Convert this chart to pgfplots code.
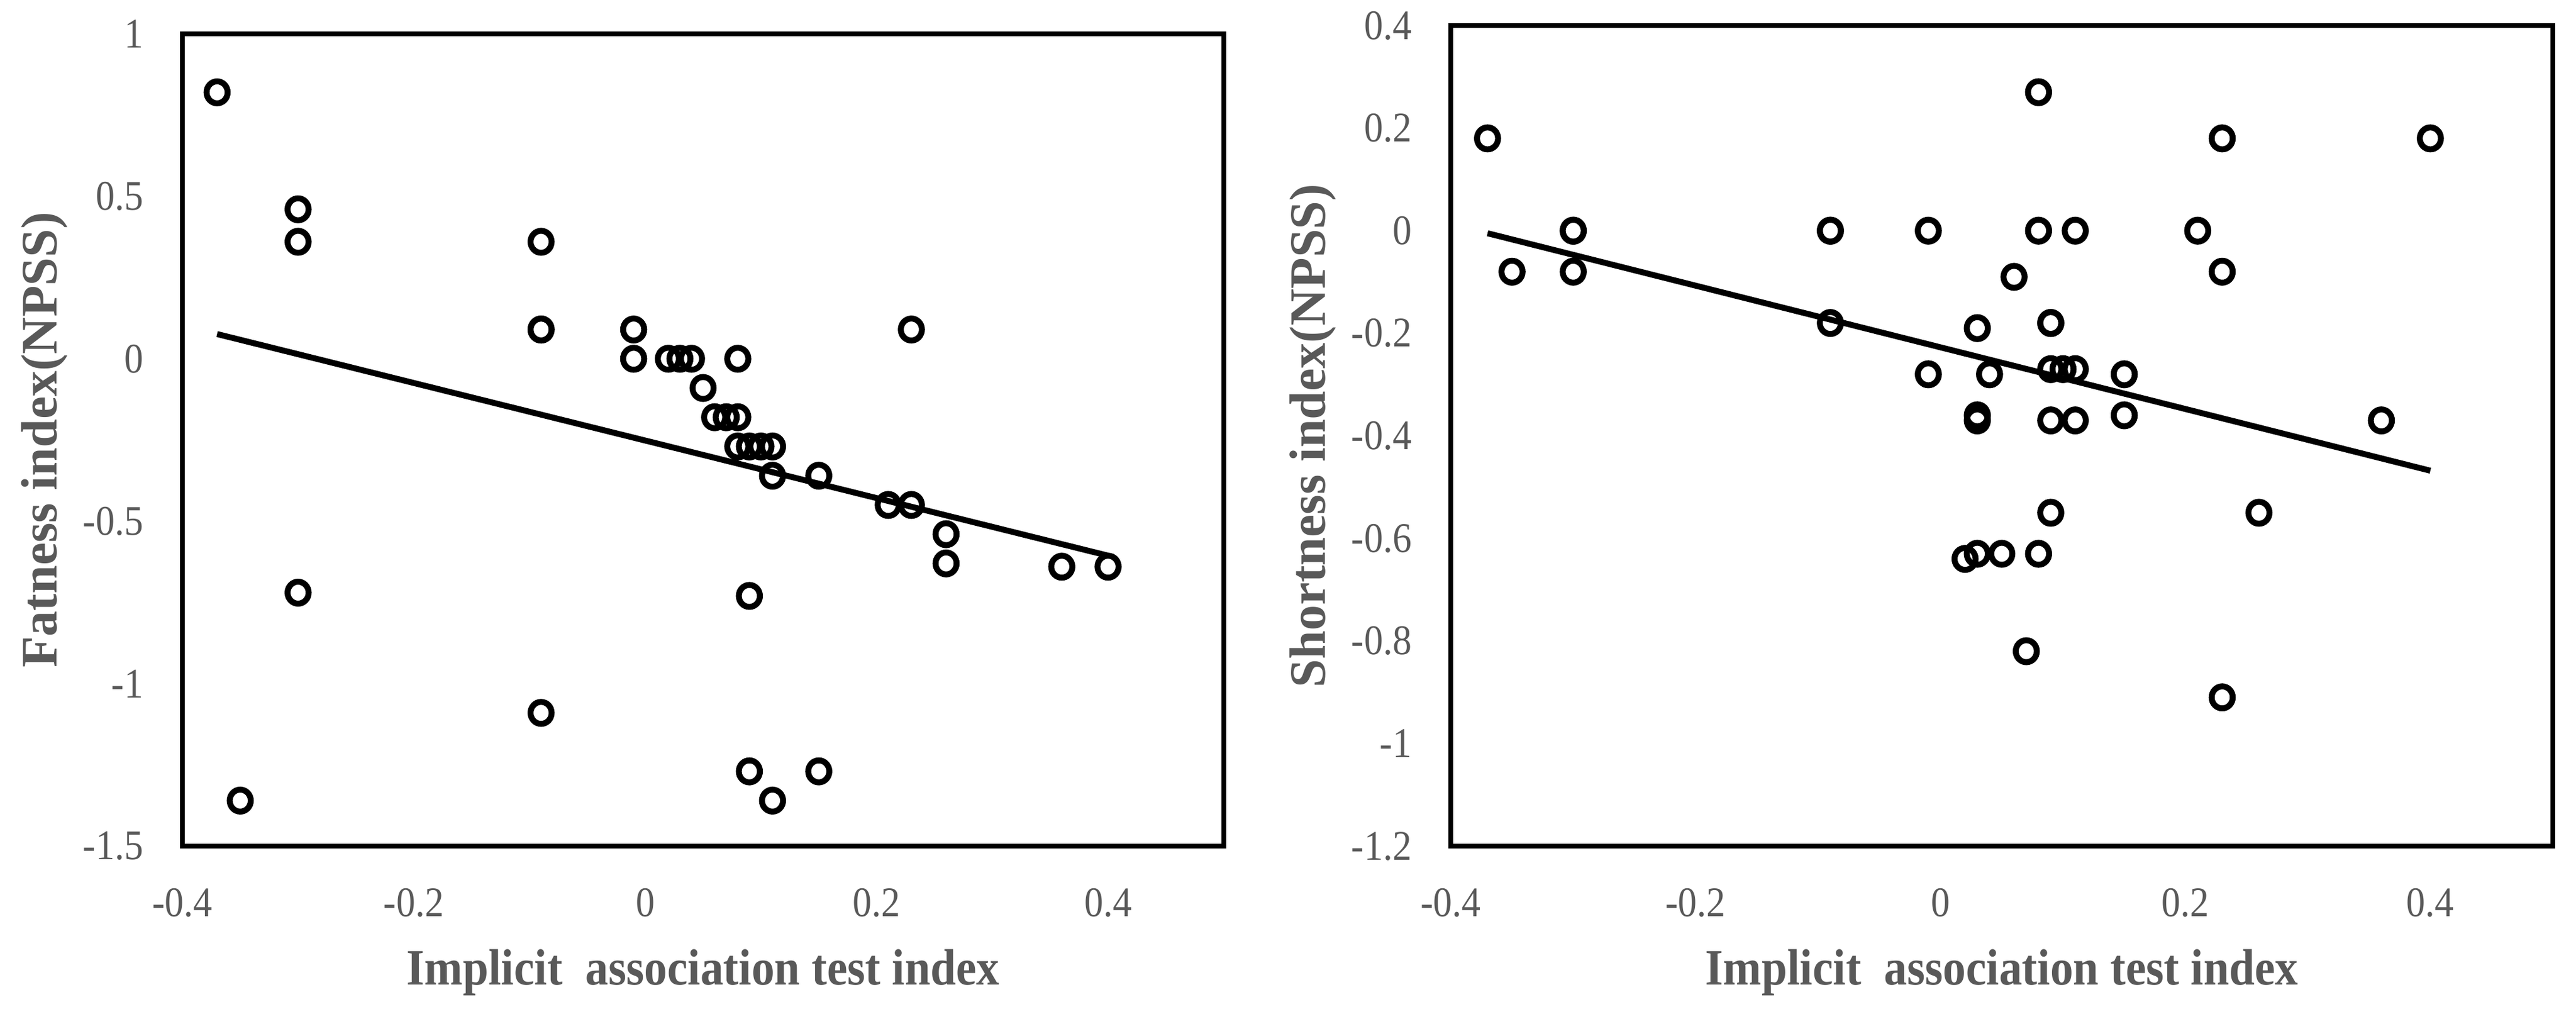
\documentclass[border=0pt]{standalone}
\usepackage{fontspec}
\setmainfont[FakeStretch=0.9]{Liberation Serif}
\newfontfamily\ylfont{Liberation Serif}
\usepackage{pgfplots}
\pgfplotsset{compat=1.18}
\definecolor{tickgray}{HTML}{595959}

\pgfplotsset{
  myaxis/.style={
    scale only axis,
    clip=false,
    axis line style={line width=0.73pt, black},
    major tick style={draw=none},
    minor tick style={draw=none},
    xmin=-0.4, xmax=0.5,
    xtick={-0.4,-0.2,0,0.2,0.4},
    xticklabels={-0.4,-0.2,0,0.2,0.4},
    ticklabel style={font=\fontsize{7.1}{8}\selectfont, text=tickgray},
    xticklabel style={anchor=north, inner sep=0pt, yshift=-6.9pt},
    yticklabel style={anchor=east, inner sep=0pt, xshift=-6.4pt},
    xlabel style={at={([yshift=-23.3pt]axis description cs:0.5,0)}, anchor=base,
      font=\fontsize{8.6}{10}\selectfont\bfseries, text=tickgray, inner sep=0pt},
    ylabel style={at={([xshift=-21.2pt]axis description cs:0,0.5)}, anchor=base, rotate=0,
      font=\ylfont\fontsize{8.6}{10}\selectfont\bfseries, text=tickgray, inner sep=0pt},
    xlabel={Implicit\ \ association test index},
  },
  pts/.style={only marks, mark=o, mark size=1.85pt, black,
    mark options={line width=1.0pt, xscale=0.96}},
  fit/.style={no marks, black, line width=1.0pt},
}

\begin{document}
\begin{tikzpicture}
\useasboundingbox (0,0) rectangle (433.6pt,171.4pt);

\begin{axis}[myaxis,
  at={(30.7pt,29.0pt)}, anchor=south west,
  width=175.3pt, height=136.7pt,
  ymin=-1.5, ymax=1,
  ytick={-1.5,-1,-0.5,0,0.5,1},
  yticklabels={-1.5,-1,-0.5,0,0.5,1},
  ylabel={Fatness index(NPSS)},
]
\addplot[pts] coordinates {
(-0.37,0.82) (-0.30,0.46) (-0.30,0.36) (-0.30,-0.72) (-0.35,-1.36)
(-0.09,0.36) (-0.09,0.09) (-0.09,0.09) (-0.09,-1.09)
(-0.01,0.09) (-0.01,0) (0.02,0) (0.03,0) (0.04,0) (0.08,0)
(0.05,-0.09) (0.06,-0.18) (0.07,-0.18) (0.08,-0.18)
(0.08,-0.27) (0.09,-0.27) (0.10,-0.27) (0.11,-0.27)
(0.11,-0.36) (0.15,-0.36) (0.21,-0.45) (0.23,-0.45) (0.23,0.09)
(0.26,-0.54) (0.26,-0.63) (0.36,-0.64) (0.40,-0.64)
(0.09,-0.73) (0.09,-1.27) (0.15,-1.27) (0.11,-1.36)
};
\addplot[fit] coordinates {(-0.37,0.076) (0.40,-0.606)};
\end{axis}

\begin{axis}[myaxis,
  at={(244.2pt,29.0pt)}, anchor=south west,
  width=185.5pt, height=138.1pt,
  ymin=-1.2, ymax=0.4,
  ytick={-1.2,-1,-0.8,-0.6,-0.4,-0.2,0,0.2,0.4},
  yticklabels={-1.2,-1,-0.8,-0.6,-0.4,-0.2,0,0.2,0.4},
  ylabel={Shortness index(NPSS)},
]
\addplot[pts] coordinates {
(-0.37,0.18) (-0.35,-0.08) (-0.30,0) (-0.30,0) (-0.30,-0.08)
(-0.09,0) (-0.09,0) (-0.09,-0.18)
(-0.01,0) (-0.01,-0.28) (0.03,-0.19) (0.03,-0.36) (0.03,-0.37) (0.04,-0.28)
(0.06,-0.09) (0.08,0.27) (0.08,0) (0.11,0)
(0.09,-0.18) (0.09,-0.18) (0.09,-0.27) (0.10,-0.27) (0.11,-0.27)
(0.09,-0.37) (0.11,-0.37) (0.15,-0.28) (0.15,-0.36)
(0.21,0) (0.23,0.18) (0.23,-0.08) (0.40,0.18) (0.36,-0.37)
(0.26,-0.55) (0.09,-0.55) (0.02,-0.64) (0.03,-0.63) (0.05,-0.63) (0.08,-0.63)
(0.07,-0.82) (0.23,-0.91)
};
\addplot[fit] coordinates {(-0.37,-0.005) (0.40,-0.468)};
\end{axis}
\end{tikzpicture}
\end{document}
